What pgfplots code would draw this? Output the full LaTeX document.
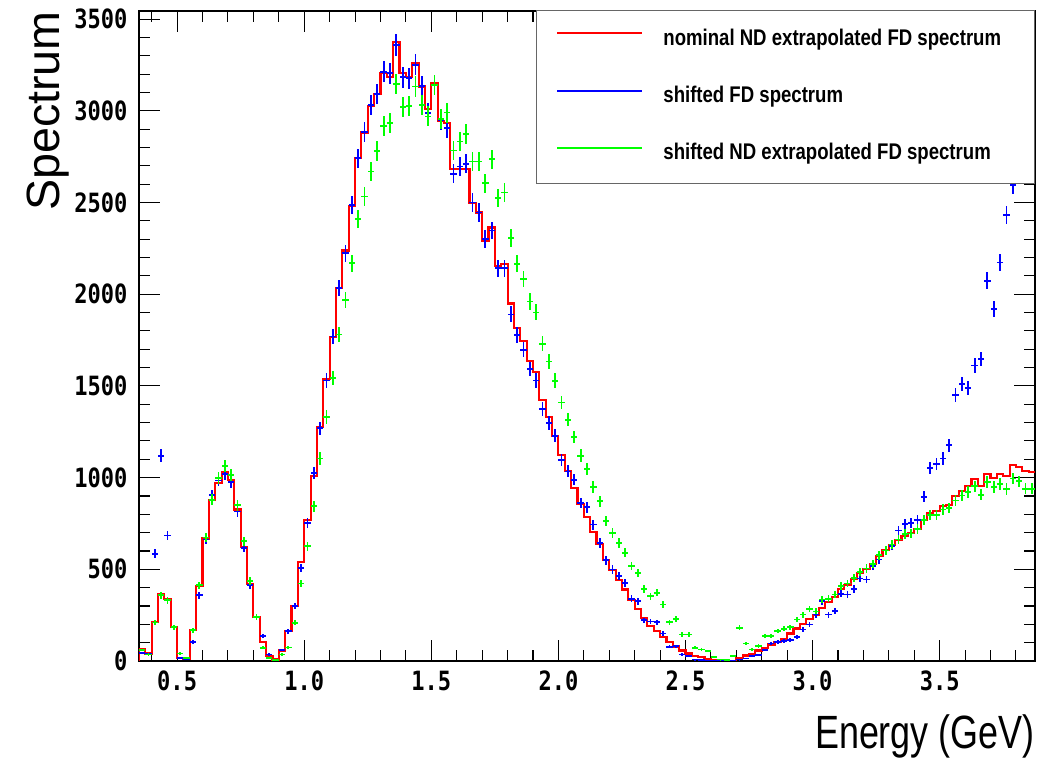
\documentclass[border=0pt]{standalone}
\usepackage{fontspec}
\setmainfont{Liberation Sans}
\newfontfamily\tickfont[FakeStretch=0.83]{DejaVu Sans Mono}
\newfontfamily\legfont[FakeStretch=0.82]{Liberation Sans}
\newfontfamily\xtitlefont[FakeStretch=0.77]{Liberation Sans}
\usepackage{graphicx}
\usepackage{pgfplots}
\usepackage{pgfplotstable}
\pgfplotsset{compat=1.18}
\definecolor{hred}{RGB}{255,0,0}
\definecolor{hblue}{RGB}{0,0,255}
\definecolor{hgreen}{RGB}{0,255,0}

\pgfplotstableread{
xl b eb g eg r
0.350 nan nan nan nan 0
0.350 45 6.7 60 7.7 66
0.375 40 6.3 35 5.9 41
0.400 585 24.2 210 14.5 214
0.425 1120 33.5 359 18.9 366
0.450 685 26.2 331 18.2 339
0.475 184 13.6 184 13.6 184
0.500 17 4.1 41 6.4 17
0.525 10 3.2 17 4.1 10
0.550 105 10.2 168 13.0 168
0.575 359 18.9 413 20.3 408
0.600 662 25.7 673 25.9 668
0.625 905 30.1 880 29.7 880
0.650 985 31.4 998 31.6 971
0.675 1020 31.9 1062 32.6 1031
0.700 977 31.3 1016 31.9 985
0.725 816 28.6 849 29.1 826
0.750 617 24.8 653 25.6 622
0.775 413 20.3 435 20.9 422
0.800 242 15.6 240 15.5 242
0.825 135 11.6 72 8.5 105
0.850 35 5.9 17 4.1 26
0.875 8 2.8 5 2.2 8
0.900 60 7.7 35 5.9 57
0.925 162 12.7 73 8.5 164
0.950 299 17.3 208 14.4 299
0.975 508 22.5 422 20.5 538
1.000 753 27.4 626 25.0 771
1.025 1026 32.0 844 29.1 1007
1.050 1270 35.6 1104 33.2 1275
1.075 1530 39.1 1330 36.5 1540
1.100 1770 42.1 1545 39.3 1765
1.125 2034 45.1 1780 42.2 2034
1.150 2224 47.2 1970 44.4 2239
1.175 2488 49.9 2170 46.6 2482
1.200 2742 52.4 2410 49.1 2742
1.225 2886 53.7 2533 50.3 2882
1.250 3033 55.1 2669 51.7 3027
1.275 3093 55.6 2782 52.7 3093
1.300 3214 56.7 2918 54.0 3209
1.325 3205 56.6 2933 54.2 3187
1.350 3360 58.0 3147 56.1 3378
1.375 3184 56.4 3020 55.0 3209
1.400 3178 56.4 3027 55.0 3184
1.425 3251 57.0 3133 56.0 3263
1.450 3136 56.0 3033 55.1 3133
1.475 2987 54.7 2970 54.5 3009
1.500 3142 56.1 3142 56.1 3151
1.525 2951 54.3 2955 54.4 2947
1.550 2905 53.9 2991 54.7 2933
1.575 2657 51.5 2784 52.8 2684
1.600 2697 51.9 2833 53.2 2684
1.625 2711 52.1 2875 53.6 2684
1.650 2500 50.0 2724 52.2 2497
1.675 2446 49.5 2724 52.2 2446
1.700 2301 48.0 2606 51.0 2293
1.725 2348 48.5 2737 52.3 2364
1.750 2143 46.3 2524 50.2 2152
1.775 2143 46.3 2555 50.5 2165
1.800 1890 43.5 2306 48.0 1950
1.825 1779 42.2 2166 46.5 1816
1.850 1698 41.2 2083 45.6 1743
1.875 1592 39.9 1961 44.3 1634
1.900 1530 39.1 1901 43.6 1574
1.925 1374 37.1 1730 41.6 1425
1.950 1298 36.0 1634 40.4 1331
1.975 1229 35.1 1529 39.1 1225
2.000 1098 33.1 1410 37.5 1125
2.025 1034 32.2 1316 36.3 1034
2.050 989 31.4 1222 35.0 944
2.075 862 29.4 1120 33.5 858
2.100 838 28.9 1047 32.4 784
2.125 744 27.3 949 30.8 702
2.150 644 25.4 871 29.5 640
2.175 549 23.4 762 27.6 553
2.200 499 22.3 699 26.4 495
2.225 462 21.5 644 25.4 444
2.250 426 20.6 590 24.3 390
2.275 339 18.4 517 22.7 331
2.300 326 18.1 481 21.9 284
2.325 222 14.9 393 19.8 235
2.350 215 14.7 353 18.8 193
2.375 211 14.5 372 19.3 162
2.400 150 12.2 308 17.5 132
2.425 77 8.8 211 14.5 105
2.450 80 8.9 230 15.2 79
2.475 35 5.9 144 12.0 57
2.500 28 5.3 144 12.0 41
2.525 8 2.8 72 8.5 29
2.550 5 2.2 63 7.9 21
2.575 3 1.7 54 7.3 12
2.600 1 1.0 20 4.5 4
2.625 0 0 8 2.8 2
2.650 0 0 5 2.2 1
2.675 1 1.0 26 5.1 2
2.700 8 2.8 181 13.5 18
2.725 14 3.7 95 9.7 30
2.750 27 5.2 63 7.9 40
2.775 33 5.7 81 9.0 57
2.800 60 7.7 135 11.6 72
2.825 95 9.7 135 11.6 90
2.850 105 10.2 163 12.8 104
2.875 110 10.5 175 13.2 117
2.900 114 10.7 184 13.6 150
2.925 130 11.4 226 15.0 177
2.950 172 13.1 253 15.9 203
2.975 199 14.1 285 16.9 230
3.000 253 15.9 270 16.4 253
3.025 326 18.1 335 18.3 290
3.050 253 15.9 339 18.4 320
3.075 271 16.5 362 19.0 350
3.100 366 19.1 408 20.2 393
3.125 362 19.0 422 20.5 413
3.150 393 19.8 453 21.3 448
3.175 450 21.2 484 22.0 480
3.200 444 21.1 504 22.4 502
3.225 520 22.8 530 23.0 530
3.250 553 23.5 577 24.0 571
3.275 602 24.5 602 24.5 604
3.300 629 25.1 635 25.2 631
3.325 711 26.7 662 25.7 658
3.350 749 27.4 693 26.3 684
3.375 753 27.4 695 26.4 698
3.400 767 27.7 720 26.8 722
3.425 895 29.9 767 27.7 771
3.450 1053 32.4 798 28.2 807
3.475 1075 32.8 798 28.2 816
3.500 1104 33.2 826 28.7 844
3.525 1176 34.3 835 28.9 853
3.550 1449 38.1 876 29.6 898
3.575 1510 38.9 902 30.0 929
3.600 1488 38.6 922 30.4 953
3.625 1612 40.1 953 30.9 993
3.650 1647 40.6 907 30.1 953
3.675 2074 45.5 977 31.3 1022
3.700 1919 43.8 949 30.8 998
3.725 2173 46.6 966 31.1 1022
3.750 2433 49.3 938 30.6 1007
3.775 2597 51.0 995 31.5 1067
3.800 2850 53.4 980 31.3 1058
3.825 3050 55.2 940 30.7 1034
3.850 3250 57.0 940 30.7 1029
3.875 nan nan nan nan 1029
}\spec

\begin{document}
\begin{tikzpicture}
\useasboundingbox (-104.25pt,-74.25pt) rectangle (684pt,495.75pt);
\begin{axis}[
  at={(0pt,0pt)}, anchor=south west,
  scale only axis, width=672pt, height=487.5pt,
  xmin=0.35, xmax=3.875, ymin=0, ymax=3545,
  xtick={0.5,1.0,1.5,2.0,2.5,3.0,3.5},
  xticklabels={0.5,1.0,1.5,2.0,2.5,3.0,3.5},
  ytick={0,500,1000,1500,2000,2500,3000,3500},
  yticklabels={0,500,1000,1500,2000,2500,3000,3500},
  minor xtick={0.4,0.5,...,3.85},
  minor ytick={0,100,...,3500},
  tick align=inside,
  major tick length=16pt,
  minor tick length=8pt,
  tick style={black, line width=0.8pt},
  axis line style={black, line width=1.1pt},
  tick label style={font=\tickfont\bfseries\fontsize{19.9pt}{20pt}\selectfont, inner sep=0pt},
  xticklabel style={anchor=north, yshift=-7.3pt},
  yticklabel style={anchor=east, xshift=-8.5pt},
  every axis x label/.style={at={(rel axis cs:1,0)}, anchor=base east, yshift=-66pt, inner sep=0pt, font=\xtitlefont\fontsize{35pt}{36pt}\selectfont},
  every axis y label/.style={at={(rel axis cs:0,1)}, xshift=-68pt, rotate=90, anchor=east, inner sep=0pt, font=\fontsize{35pt}{36pt}\selectfont},
  xlabel={Energy (GeV)},
  ylabel={Spectrum},
  legend cell align=left,
  legend style={at={(1,1)}, anchor=north east, yshift=0.75pt,
    draw=black!60, line width=0.8pt, fill=white,
    inner xsep=15pt, inner ysep=14pt, row sep=27pt, column sep=15pt,
    font=\legfont\bfseries\fontsize{17pt}{17pt}\selectfont,
    nodes={inner sep=0pt, text height=12pt, text depth=4pt}},
]
\addplot[const plot mark left, color=hred, line width=1.6pt,
  legend image code/.code={\draw[hred, solid, line width=1.5pt] (0pt,5pt) -- (64pt,5pt);}]
  table[x=xl, y=r] {\spec};
\addlegendentry{nominal ND extrapolated FD spectrum\hspace*{10pt}}
\addplot[color=hblue, draw=none, fill=none, mark=none,
  legend image code/.code={\draw[hblue, solid, line width=1.5pt] (0pt,5pt) -- (64pt,5pt);},
  error bars/.cd, x dir=both, x fixed=0.0125, y dir=both, y explicit,
  error mark=none, error bar style={draw=hblue, color=hblue, solid, line width=1.3pt}]
  table[x expr=\thisrow{xl}+0.0125, y=b, y error=eb] {\spec};
\addlegendentry{shifted FD spectrum}
\addplot[color=hgreen, draw=none, fill=none, mark=none,
  legend image code/.code={\draw[hgreen, solid, line width=1.5pt] (0pt,5pt) -- (64pt,5pt);},
  error bars/.cd, x dir=both, x fixed=0.0125, y dir=both, y explicit,
  error mark=none, error bar style={draw=hgreen, color=hgreen, solid, line width=1.3pt}]
  table[x expr=\thisrow{xl}+0.0125, y=g, y error=eg] {\spec};
\addlegendentry{shifted ND extrapolated FD spectrum}
\end{axis}
\end{tikzpicture}
\end{document}
